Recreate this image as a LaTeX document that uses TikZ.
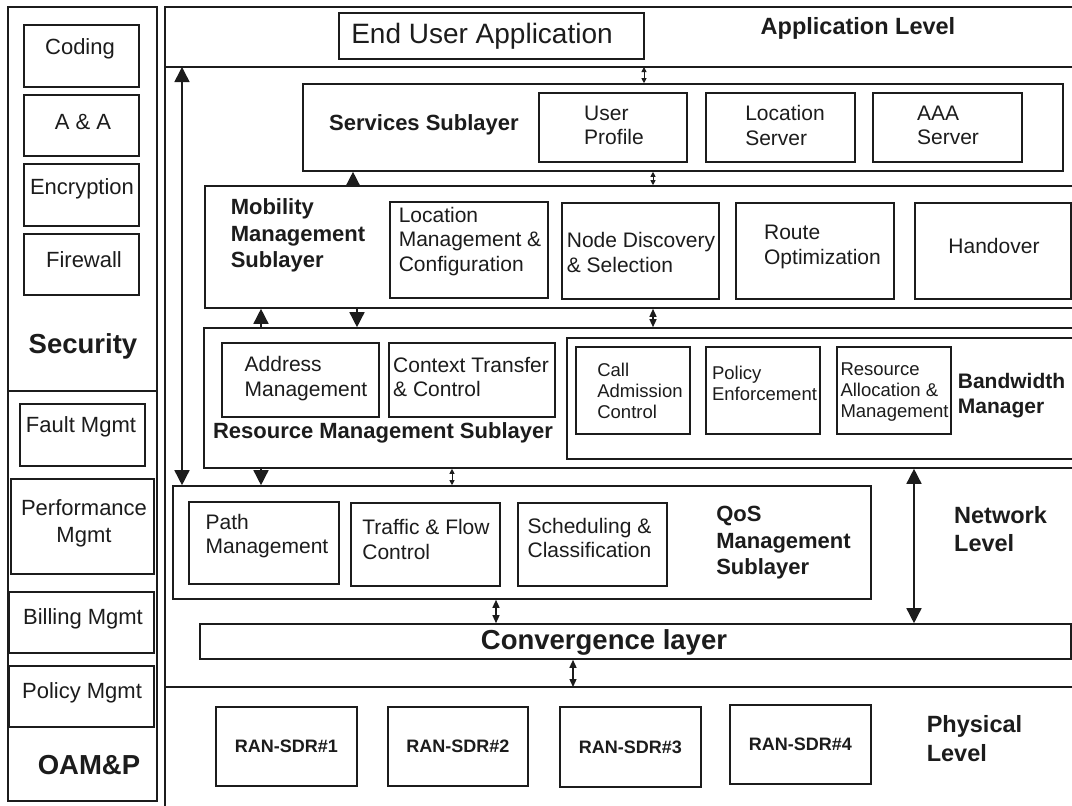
\documentclass[tikz,border=0pt]{standalone}
\usepackage{fontspec}
\setmainfont{Liberation Sans}
\usetikzlibrary{arrows.meta,fit}
\definecolor{ink}{RGB}{28,28,28}
\begin{document}
\begin{tikzpicture}[x=1pt,y=-1pt,
  bx/.style={draw=ink, line width=1.6pt, inner sep=0pt},
  frameline/.style={draw=ink, line width=2pt},
  divline/.style={draw=ink, line width=2.8pt},
  txtbase/.style={text=ink, inner sep=0pt, align=left},
  fN/.style={txtbase, font=\fontsize{21}{24.5}\selectfont},
  fL/.style={txtbase, align=center, font=\fontsize{22}{27}\selectfont},
  fS/.style={txtbase, font=\fontsize{18.5}{21}\selectfont},
  fE/.style={txtbase, font=\fontsize{28}{32}\selectfont},
  fB/.style={txtbase, font=\fontsize{22}{26.5}\selectfont\bfseries},
  fBW/.style={txtbase, font=\fontsize{21}{25}\selectfont\bfseries},
  fLev/.style={txtbase, font=\fontsize{23.5}{28.5}\selectfont\bfseries},
  fXB/.style={txtbase, font=\fontsize{27.5}{32}\selectfont\bfseries},
  fR/.style={txtbase, font=\fontsize{18}{20}\selectfont\bfseries},
  arrBig/.style={draw=ink, line width=1.5pt, -{Triangle[width=15pt,length=15pt]}},
  arrBigDbl/.style={draw=ink, line width=1.5pt, {Triangle[width=15pt,length=15pt]}-{Triangle[width=15pt,length=15pt]}},
  arrMed/.style={draw=ink, line width=1.3pt, {Triangle[width=7pt,length=8pt]}-{Triangle[width=7pt,length=8pt]}},
  arrTiny/.style={draw=ink, line width=1pt, {Triangle[width=5pt,length=5pt]}-{Triangle[width=5pt,length=5pt]}}
]
\useasboundingbox (0,0) rectangle (1072,806);
\fill[white] (0,0) rectangle (1072,806);
\clip (0,0) rectangle (1072,806);

% ---------- left column ----------
\node[bx, fit={(8,7)(157,801)}] (leftcol) {};
\coordinate (secL) at (8,391);
\coordinate (secR) at (157,391);
\draw[draw=ink, line width=1.6pt] (secL) -- (secR);
\node[bx, fit={(24,25)(139,87)}] (coding) {};
\node[bx, fit={(24,95)(139,156)}] (aa) {};
\node[bx, fit={(24,164)(139,226)}] (encr) {};
\node[bx, fit={(24,234)(139,295)}] (fw) {};
\node[bx, fit={(20,404)(145,466)}] (fault) {};
\node[bx, fit={(11,479)(154,574)}] (perf) {};
\node[bx, fit={(9,592)(154,653)}] (bill) {};
\node[bx, fit={(9,666)(154,727)}] (pol) {};

\node[fL] (tCoding) at (80,49) {Coding};
\node[fL] (tAA) at (83,122) {A \& A};
\node[fL] (tEnc) at (82,189) {Encryption};
\node[fL] (tFw) at (84,260) {Firewall};
\node[fXB] (tSec) at (83,346) {Security};
\node[fL] (tFault) at (81,427) {Fault Mgmt};
\node[fL] (tPerf) at (84,523) {Performance\\Mgmt};
\node[fL] (tBill) at (83,619) {Billing Mgmt};
\node[fL] (tPol) at (82,693) {Policy Mgmt};
\node[fXB] (tOam) at (89,765) {OAM\&P};

% ---------- main frame ----------
\coordinate (mfTR) at (1085,7);
\coordinate (mfTL) at (165,7);
\coordinate (mfBL) at (165,815);
\draw[frameline] (mfTR) -- (mfTL) -- (mfBL);
\coordinate (appL) at (165,67);
\coordinate (appR) at (1085,67);
\draw[divline] (appL) -- (appR);
\coordinate (phyL) at (165,687);
\coordinate (phyR) at (1085,687);
\draw[divline] (phyL) -- (phyR);

% ---------- application level ----------
\node[bx, fit={(339,13)(644,59)}] (enduser) {};
\node[fE] (tEnd) at (482,36) {End User Application};
\node[fLev] (tApp) at (858,28) {Application Level};

% ---------- services ----------
\node[bx, fit={(303,84)(1063,171)}] (serv) {};
\node[bx, fit={(539,93)(687,162)}] (uprof) {};
\node[bx, fit={(706,93)(855,162)}] (locserv) {};
\node[bx, fit={(873,93)(1022,162)}] (aaaserv) {};
\node[fB] (tServ) at (424,125) {Services Sublayer};
\node[fN] (tUP) at (614,125.5) {User\\Profile};
\node[fN] (tLS) at (785,125.5) {Location\\Server};
\node[fN] (tAAA) at (948,125.5) {AAA\\Server};

% ---------- mobility ----------
\node[bx, fit={(205,186)(1090,308)}] (mob) {};
\node[bx, fit={(390,202)(548,298)}] (locmgmt) {};
\node[bx, fit={(562,203)(719,299)}] (nodedisc) {};
\node[bx, fit={(736,203)(894,299)}] (route) {};
\node[bx, fit={(915,203)(1071,299)}] (handover) {};
\node[fB] (tMob) at (298,235.5) {Mobility\\Management\\Sublayer};
\node[fN] (tLoc) at (470,241.5) {Location\\Management \&\\Configuration};
\node[fN] (tNode) at (641,252.5) {Node Discovery\\\& Selection};
\node[fN] (tRoute) at (822.5,247) {Route\\Optimization};
\node[fN] (tHand) at (994,246) {Handover};

% ---------- resource ----------
\node[bx, fit={(204,328)(1090,468)}] (res) {};
\node[bx, fit={(222,343)(379,417)}] (addr) {};
\node[bx, fit={(389,343)(555,417)}] (ctx) {};
\node[fN] (tAddr) at (306,378.5) {Address\\Management};
\node[fN] (tCtx) at (471,377) {Context Transfer\\\& Control};
\node[fB] (tRes) at (383,433) {Resource Management Sublayer};
\node[bx, fit={(567,338)(1090,459)}] (bw) {};
\node[bx, fit={(576,347)(690,434)}] (cac) {};
\node[bx, fit={(706,347)(820,434)}] (polenf) {};
\node[bx, fit={(837,347)(951,434)}] (resalloc) {};
\node[fS] (tCac) at (640,391) {Call\\Admission\\Control};
\node[fS] (tPe) at (764.5,383) {Policy\\Enforcement};
\node[fS] (tRa) at (894.5,392) {Resource\\Allocation \&\\Management};
\node[fBW] (tBw) at (1011.5,395.5) {Bandwidth\\Manager};

% ---------- QoS ----------
\node[bx, fit={(173,486)(871,599)}] (qos) {};
\node[bx, fit={(189,502)(339,584)}] (pathm) {};
\node[bx, fit={(351,503)(500,586)}] (traffic) {};
\node[bx, fit={(518,503)(667,586)}] (sched) {};
\node[fN] (tPath) at (267,536) {Path\\Management};
\node[fN] (tTraf) at (426,539.5) {Traffic \& Flow\\Control};
\node[fN] (tSched) at (589.5,538) {Scheduling \&\\Classification};
\node[fB] (tQos) at (783.5,543) {QoS\\Management\\Sublayer};
\node[fLev] (tNet) at (1000.5,529) {Network\\Level};

% ---------- convergence ----------
\node[bx, fit={(200,624)(1071,659)}] (conv) {};
\node[fXB] (tConv) at (604,642) {Convergence layer};

% ---------- physical ----------
\node[bx, fit={(216,707)(357,786)}] (ran1) {};
\node[bx, fit={(388,707)(528,786)}] (ran2) {};
\node[bx, fit={(560,707)(701,787)}] (ran3) {};
\node[bx, fit={(730,705)(871,784)}] (ran4) {};
\node[fR] (tR1) at (ran1) {RAN-SDR\#1};
\node[fR] (tR2) at (ran2) {RAN-SDR\#2};
\node[fR] (tR3) at (ran3) {RAN-SDR\#3};
\node[fR] (tR4) at (ran4) {RAN-SDR\#4};
\node[fLev] (tPhy) at (974.5,738.5) {Physical\\Level};

% ---------- arrows ----------
\coordinate (a1) at (182,67);
\draw[arrBigDbl] (a1) -- (a1 |- qos.north);
\coordinate (x644) at (644,0);
\draw[arrTiny] (x644 |- appL) -- (x644 |- serv.north);
\coordinate (x353) at (353,0);
\draw[arrBig] (x353 |- mob.north) -- (x353 |- serv.south);
\coordinate (x653) at (653,0);
\draw[arrTiny] (x653 |- serv.south) -- (x653 |- mob.north);
\coordinate (x261) at (261,0);
\draw[arrBig] (x261 |- res.north) -- (x261 |- mob.south);
\coordinate (x357) at (357,0);
\draw[arrBig] (x357 |- mob.south) -- (x357 |- res.north);
\draw[arrMed] (x653 |- mob.south) -- (x653 |- res.north);
\draw[arrBig] (x261 |- res.south) -- (x261 |- qos.north);
\coordinate (x452) at (452,0);
\draw[arrTiny] (x452 |- res.south) -- (x452 |- qos.north);
\coordinate (x914) at (914,0);
\draw[arrBigDbl] (x914 |- res.south) -- (x914 |- conv.north);
\coordinate (x496) at (496,0);
\draw[arrMed] (x496 |- qos.south) -- (x496 |- conv.north);
\coordinate (x573) at (573,0);
\draw[arrMed] (x573 |- conv.south) -- (x573 |- phyL);
\end{tikzpicture}
\end{document}
